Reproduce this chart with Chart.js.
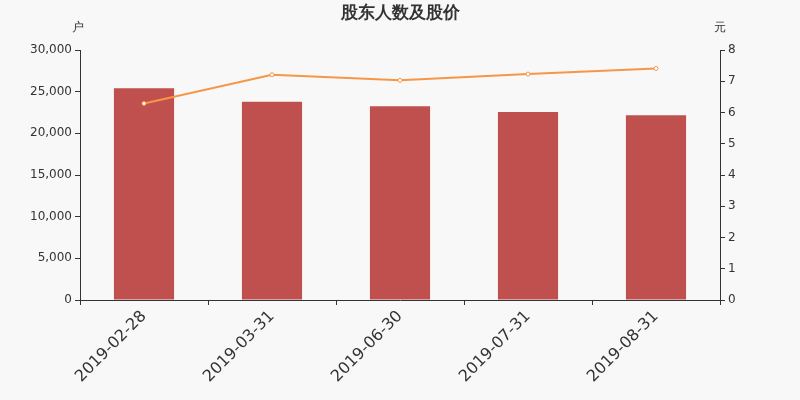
<!DOCTYPE html>
<html>
<head>
<meta charset="utf-8">
<script src="https://cdn.jsdelivr.net/npm/chart.js@4"></script>
<style>
    html, body { margin: 0; padding: 0; background: #f8f8f8; }
    #wrap { width: 800px; height: 400px; }
</style>
</head>
<body>
<div id="wrap"><canvas id="chart"></canvas></div>
<script>
// Data
const dates = ['2019-02-28', '2019-03-31', '2019-06-30', '2019-07-31', '2019-08-31'];
const holders = [25400, 23800, 23240, 22560, 22160]; // 户
const prices = [6.29, 7.21, 7.03, 7.23, 7.41];       // 元

const textColor = '#333';
const font = 'DejaVu Sans';

// Title and axis unit labels drawn on top of the canvas
const labelsPlugin = {
    id: 'labels',
    afterDraw(chart) {
        const ctx = chart.ctx;
        const area = chart.chartArea;
        ctx.save();
        ctx.fillStyle = textColor;
        ctx.textAlign = 'center';
        ctx.textBaseline = 'middle';
        ctx.font = 'bold 17px ' + font;
        ctx.fillText('股东人数及股价', 400, 14);
        ctx.font = '12px ' + font;
        ctx.fillText('户', area.left - 2, 28);
        ctx.fillText('元', area.right, 28);
        ctx.restore();
    }
};

new Chart(document.getElementById('chart'), {
    data: {
        labels: dates,
        datasets: [
            {
                type: 'line',
                data: prices,
                yAxisID: 'y1',
                borderColor: '#f79646',
                borderWidth: 2,
                pointRadius: 2,
                pointBackgroundColor: '#fff',
                pointBorderColor: '#f79646',
                pointBorderWidth: 1,
                tension: 0,
                order: 0
            },
            {
                type: 'bar',
                data: holders,
                yAxisID: 'y',
                backgroundColor: '#c0504d',
                barPercentage: 0.47,
                categoryPercentage: 1,
                order: 1
            }
        ]
    },
    options: {
        responsive: true,
        maintainAspectRatio: false,
        animation: false,
        layout: { padding: { top: 50, left: 0, right: 0, bottom: 0 } },
        plugins: { legend: { display: false }, tooltip: { enabled: false } },
        scales: {
            x: {
                offset: true,
                grid: { offset: true, drawOnChartArea: false, tickLength: 5, color: textColor },
                border: { color: textColor },
                ticks: { color: textColor, font: { family: font, size: 16 }, maxRotation: 45, minRotation: 45, padding: 2 },
                afterFit(scale) { scale.height = 100; }
            },
            y: {
                position: 'left',
                min: 0,
                max: 30000,
                grid: { drawOnChartArea: false, tickLength: 5, color: textColor },
                border: { color: textColor },
                ticks: {
                    stepSize: 5000,
                    color: textColor,
                    font: { family: font, size: 12 },
                    padding: 3,
                    callback: v => v.toLocaleString('en-US')
                },
                afterFit(scale) { scale.width = 80; }
            },
            y1: {
                position: 'right',
                min: 0,
                max: 8,
                grid: { drawOnChartArea: false, tickLength: 5, color: textColor },
                border: { color: textColor },
                ticks: { stepSize: 1, color: textColor, font: { family: font, size: 12 }, padding: 3 },
                afterFit(scale) { scale.width = 80; }
            }
        }
    },
    plugins: [labelsPlugin]
});
</script>
</body>
</html>
